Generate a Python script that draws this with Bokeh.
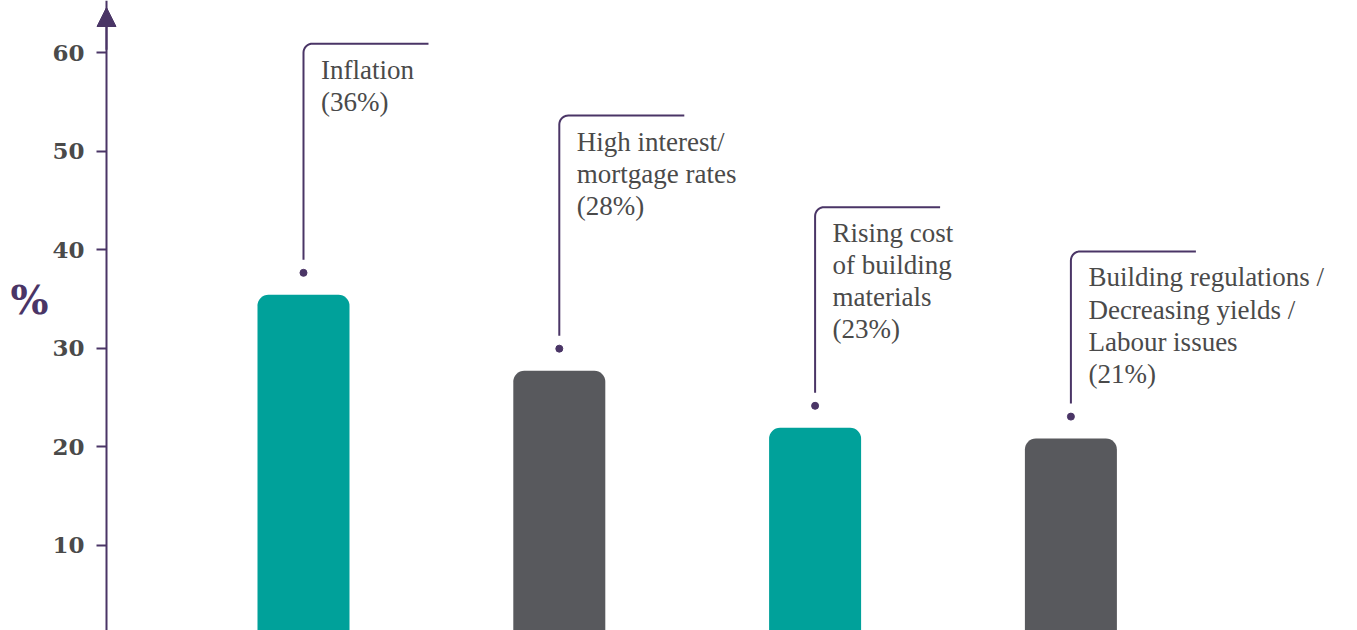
import numpy as np
from bokeh.plotting import figure
from bokeh.models import Range1d, FixedTicker, Label, Arrow, NormalHead, ColumnDataSource
from bokeh.core.properties import value
from bokeh.embed import file_html
from bokeh.resources import INLINE

# ---- data ----
categories = ["Inflation",
              "High interest/\nmortgage rates",
              "Rising cost\nof building\nmaterials",
              "Building regulations /\nDecreasing yields /\nLabour issues"]
label_pct = [36, 28, 23, 21]
bar_values = [35.4, 27.7, 21.9, 20.8]
y_ticks = [10, 20, 30, 40, 50, 60]
leader_top = [60.9, 53.6, 44.3, 39.8]   # annotation layout (data units)

TEAL = "#00a19a"
GREY = "#58595d"
PURPLE = "#4a3566"
TEXT = "#4a4a4a"
bar_colors = [TEAL, GREY, TEAL, GREY]

# ---- layout ----
W, H = 1357, 630
X0, X1 = -1.1845, 4.1204
Y0, Y1 = 1.32, 65.28
AXIS_X = -0.7701
px_x = W / (X1 - X0)
px_y = H / (Y1 - Y0)

p = figure(width=W, height=H, x_range=Range1d(X0, X1), y_range=Range1d(Y0, Y1),
           x_axis_location=None, toolbar_location=None, output_backend="svg",
           min_border_left=0, min_border_right=0, min_border_top=0, min_border_bottom=0)
p.grid.visible = False
p.outline_line_color = None
p.background_fill_color = "white"
p.border_fill_color = "white"

ax = p.yaxis[0]
ax.fixed_location = AXIS_X
ax.ticker = FixedTicker(ticks=y_ticks)
ax.axis_line_color = PURPLE
ax.axis_line_width = 2
ax.major_tick_line_color = PURPLE
ax.major_tick_line_width = 2
ax.major_tick_out = 10
ax.major_tick_in = 0
ax.minor_tick_line_color = None
ax.major_label_standoff = 12
ax.major_label_text_font = "DejaVu Serif"
ax.major_label_text_font_style = "bold"
ax.major_label_text_font_size = "23px"
ax.major_label_text_color = TEXT

xs = np.arange(len(bar_values), dtype=float)
src = ColumnDataSource(dict(x=xs, top=bar_values, color=bar_colors))
p.vbar(x="x", top="top", bottom=Y0 - 5, width=92 / px_x, fill_color="color",
       line_color=None, border_radius=(11, 11, 0, 0), source=src)

vals = np.array(bar_values)
dot_y = vals + 22 / px_y
p.scatter(xs, dot_y, size=7, color=PURPLE)

# leader lines with rounded corner
r = 9
rx, ry = r / px_x, r / px_y
lx, ly = [], []
t = np.linspace(np.pi, np.pi / 2, 10)
for x, dy, top in zip(xs, dot_y, leader_top):
    xx = [x, x]
    yy = [dy + 13 / px_y, top - ry]
    cx, cy = x + rx, top - ry
    xx += list(cx + rx * np.cos(t))
    yy += list(cy + ry * np.sin(t))
    xx.append(x + 125 / px_x)
    yy.append(top)
    lx.append(xx)
    ly.append(yy)
p.multi_line(lx, ly, line_color=PURPLE, line_width=2)

texts = [f"{c}\n({v}%)" for c, v in zip(categories, label_pct)]
p.text(xs + 17.5 / px_x, np.array(leader_top) - 11 / px_y, text=texts,
       text_font=value("Liberation Serif"), text_font_size="27px", text_color=TEXT,
       text_baseline="top", text_align="left", text_line_height=1.07)

# axis arrow head
p.add_layout(Arrow(end=NormalHead(size=19, fill_color=PURPLE, line_color=PURPLE, line_width=1),
                   x_start=AXIS_X, y_start=Y1 - 5, x_end=AXIS_X, y_end=Y1 - 7 / px_y,
                   line_color=PURPLE, line_width=2))

# "%" axis title
p.add_layout(Label(x=X0 + 29 / px_x, y=Y1 - 299 / px_y, text="%",
                   text_font="DejaVu Serif", text_font_size="40px", text_font_style="bold",
                   text_color=PURPLE, text_align="center", text_baseline="middle"))

open("out.html", "w").write(file_html(p, INLINE))
